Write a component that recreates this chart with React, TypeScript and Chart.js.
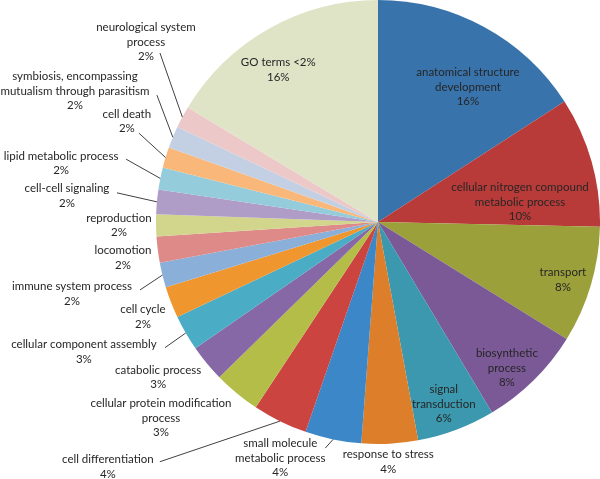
import React, { useEffect, useRef } from "react";
import { Chart, registerables } from "chart.js";

Chart.register(...registerables);

const categories: string[] = [
  "anatomical structure\ndevelopment",
  "cellular nitrogen compound\nmetabolic process",
  "transport",
  "biosynthetic\nprocess",
  "signal\ntransduction",
  "response to stress",
  "small molecule\nmetabolic process",
  "cell differentiation",
  "cellular protein modification\nprocess",
  "catabolic process",
  "cellular component assembly",
  "cell cycle",
  "immune system process",
  "locomotion",
  "reproduction",
  "cell-cell signaling",
  "lipid metabolic process",
  "cell death",
  "symbiosis, encompassing\nmutualism through parasitism",
  "neurological system\nprocess",
  "GO terms <2%",
];

const values: number[] = [
  15.9, 9.5, 8.5, 7.6, 5.7, 4.1, 4.1, 4.0, 3.4, 2.7, 2.6, 2.3, 1.8, 1.9, 1.6,
  1.8, 1.6, 1.5, 1.6, 1.6, 16.4,
];

const percentLabels: string[] = [
  "16%", "10%", "8%", "8%", "6%", "4%", "4%", "4%", "3%", "3%", "3%", "2%",
  "2%", "2%", "2%", "2%", "2%", "2%", "2%", "2%", "16%",
];

const colors: string[] = [
  "#3873ab", "#b93b39", "#9ba03b", "#7a5996", "#3b98ae", "#dc7e2a",
  "#3b87c8", "#cc4440", "#b3bd48", "#8668a6", "#4bacc6", "#f0962e",
  "#8ab0da", "#de8a88", "#d2d68c", "#af9dc8", "#94ccdc", "#f9b87a",
  "#c3d0e3", "#ecc9c8", "#e0e4c6",
];

// label placement: [angle offset from slice mid (deg), distance as fraction of radius]
const labelPlacement: [number, number][] = [
  [5.1, 0.731], [7.8, 0.646], [0.9, 0.873], [3.1, 0.877], [0.8, 0.872],
  [0.6, 1.081], [10.8, 1.151], [21.6, 1.642], [8.4, 1.317], [4.3, 1.212],
  [6.2, 1.448], [-0.8, 1.142], [0.6, 1.416], [-0.8, 1.16], [0.2, 1.167],
  [-0.4, 1.406], [-0.8, 1.452], [5.0, 1.219], [0.9, 1.487], [9.6, 1.323],
  [-3.8, 0.819],
];

// leader line start offsets relative to label block centre (null = no leader)
const leaderStart: ([number, number] | null)[] = [
  null, null, null, null, null, null, [45, -10], [52, -5], null, null,
  [81, -4], null, [68, -4], null, null, [50, -3], [65, -4], [12, 12],
  [82, 4], [14, 11], null,
];

const FONT = "11.5px Lato";
const LINE_H = 14.6;

const labelPlugin = {
  id: "sliceLabels",
  afterDatasetsDraw(chart: any) {
    const ctx = chart.ctx as CanvasRenderingContext2D;
    const meta = chart.getDatasetMeta(0);
    ctx.save();
    ctx.font = FONT;
    ctx.fillStyle = "#262626";
    ctx.textAlign = "center";
    ctx.textBaseline = "middle";
    meta.data.forEach((arc: any, i: number) => {
      const p = arc.getProps(["x", "y", "outerRadius", "startAngle", "endAngle"], true);
      const mid = (p.startAngle + p.endAngle) / 2;
      const [off, dist] = labelPlacement[i];
      const a = mid + (off * Math.PI) / 180;
      const lx = p.x + Math.cos(a) * dist * p.outerRadius;
      const ly = p.y + Math.sin(a) * dist * p.outerRadius;
      const lines = [...categories[i].split("\n"), percentLabels[i]];
      const n = lines.length;
      lines.forEach((t, k) => {
        ctx.fillText(t, lx, ly + (k - (n - 1) / 2) * LINE_H);
      });
      const ls = leaderStart[i];
      if (ls) {
        const ex = p.x + Math.cos(mid) * p.outerRadius;
        const ey = p.y + Math.sin(mid) * p.outerRadius;
        ctx.beginPath();
        ctx.strokeStyle = "#404040";
        ctx.lineWidth = 1;
        ctx.moveTo(lx + ls[0], ly + ls[1]);
        ctx.lineTo(ex, ey);
        ctx.stroke();
      }
    });
    ctx.restore();
  },
};

export default function App() {
  const ref = useRef<HTMLCanvasElement | null>(null);
  useEffect(() => {
    if (!ref.current) return;
    const chart = new Chart(ref.current, {
      type: "pie",
      data: {
        labels: categories,
        datasets: [
          {
            data: values,
            backgroundColor: colors,
            borderWidth: 0,
          },
        ],
      },
      options: {
        responsive: false,
        animation: false,
        layout: { padding: { left: 156, right: 0, top: 0, bottom: 35 } },
        plugins: {
          legend: { display: false },
          tooltip: { enabled: false },
        },
      },
      plugins: [labelPlugin],
    });
    return () => chart.destroy();
  }, []);
  return (
    <div style={{ position: "fixed", left: 0, top: 0, width: 600, height: 479, background: "#fff" }}>
      <canvas ref={ref} width={600} height={479} />
    </div>
  );
}
